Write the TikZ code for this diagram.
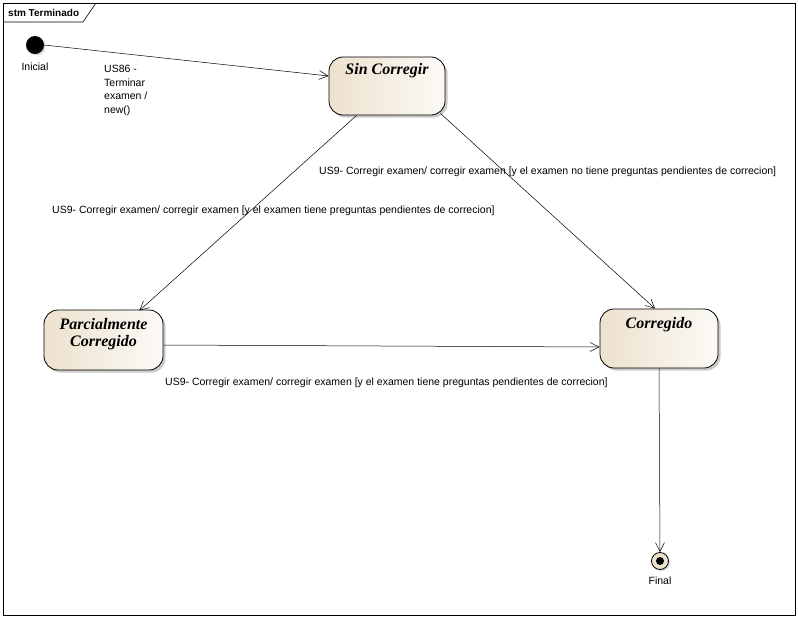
\documentclass[tikz,border=0pt]{standalone}
\usepackage{fontspec}
\setmainfont{Liberation Sans}
\newfontfamily\statefont{Liberation Serif}
\usetikzlibrary{arrows.meta,shadows,calc}
\definecolor{stL}{HTML}{EDE1CE}
\definecolor{stR}{HTML}{FCFAF6}
\begin{document}
\begin{tikzpicture}[x=1pt,y=-1pt,
  every node/.style={font=\fontsize{10.5}{13.5}\selectfont, inner sep=0pt},
  state/.style={draw=black, line width=0.8pt, rounded corners=14pt,
    left color=stL, right color=stR,
    drop shadow={shadow xshift=2.5pt, shadow yshift=-2.5pt, opacity=0.35, fill=black!60},
    minimum width=116pt, minimum height=58pt},
  statetitle/.style={font=\statefont\fontsize{16}{17}\selectfont\bfseries\itshape, align=center},
  trans/.style={draw=black, line width=0.5pt, -{Straight Barb[length=9pt,width=9pt,line width=0.5pt]}},
  tlabel/.style={anchor=west}]
\useasboundingbox (0,0) rectangle (798,618);
% frame
\draw[line width=0.6pt] (3,3) rectangle (795,615);
\draw[line width=0.6pt] (3,22) -- (83,22) -- (96,3);
\node[anchor=west, font=\fontsize{10}{12}\selectfont\bfseries] (tab) at (8,12.5) {stm Terminado};
% initial
\node[circle, fill=black, minimum size=18pt, drop shadow={shadow xshift=1.5pt, shadow yshift=-1.5pt, opacity=0.3}] (ini) at (35,45) {};
\node (inil) at (35,67) {Inicial};
% states
\node[state, label={[statetitle, anchor=north, yshift=-6.5pt]north:Sin Corregir}] (sc) at (387,86) {};
\node[state, minimum width=119pt, minimum height=60pt, label={[statetitle, anchor=north, yshift=-8.5pt]north:Parcialmente\\Corregido}] (pc) at (103.5,340) {};
\node[state, minimum width=118pt, minimum height=59pt, label={[statetitle, anchor=north, yshift=-8.5pt]north:Corregido}] (co) at (659,338.5) {};
% final
\node[circle, draw=black, line width=0.8pt, fill=stL, minimum size=17pt, drop shadow={shadow xshift=1.5pt, shadow yshift=-1.5pt, opacity=0.3}] (fin) at (660,561) {};
\node[circle, fill=black, minimum size=8pt] (find) at (fin.center) {};
\node (finl) at (660,581) {Final};
% transitions
\draw[trans] (ini.east) -- ($(sc.west)+(0,-10)$);
\node[anchor=north west, align=left] (l0) at (104,65) {US86 -\\Terminar\\examen /\\new()};
\draw[trans] ($(sc.south west)+(28,0)$) -- ($(pc.north east)+(-24,1)$);
\node[tlabel] (l1) at (52,211) {US9- Corregir examen/ corregir examen [y el examen tiene preguntas pendientes de correcion]};
\draw[trans] ($(sc.south east)+(-5,-2)$) -- ($(co.north)+(-4,0)$);
\node[tlabel] (l2) at (319,172) {US9- Corregir examen/ corregir examen [y el examen no tiene preguntas pendientes de correcion]};
\draw[trans] ($(pc.east)+(0,5)$) -- ($(co.west)+(0,8.5)$);
\node[tlabel] (l3) at (165,383) {US9- Corregir examen/ corregir examen [y el examen tiene preguntas pendientes de correcion]};
\draw[trans] (co.south) -- (fin.north);
\end{tikzpicture}
\end{document}
